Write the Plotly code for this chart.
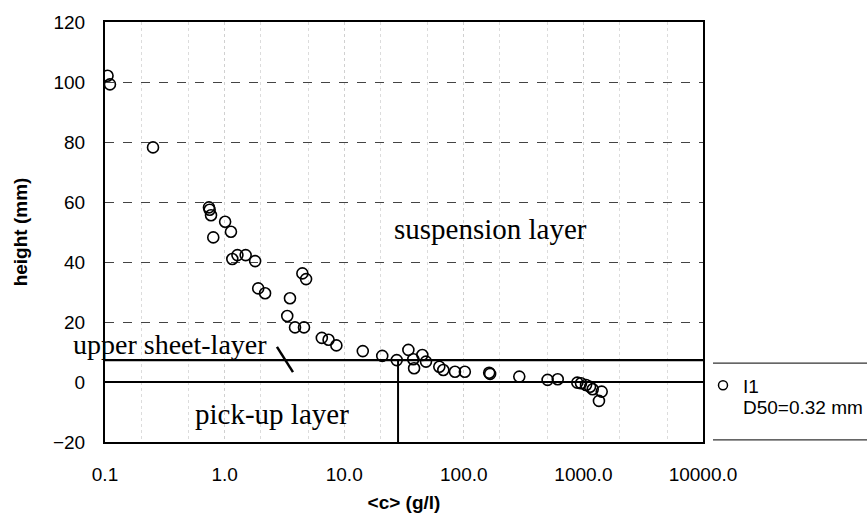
import numpy as np
import plotly.graph_objects as go

# concentration <c> (g/l) and height (mm), series I1
conc = [0.105, 0.110, 0.252, 0.74, 0.75, 0.77, 1.01, 1.13, 0.804, 1.16, 1.28, 1.50, 1.80,
        1.91, 2.18, 3.52, 3.34, 3.88, 4.61, 4.47, 4.80, 6.5, 7.4, 8.6, 14.3, 20.8,
        27.5, 34.4, 37.8, 38.4, 45.0, 48.3, 62.4, 67.4, 84.4, 102.0, 163.0, 166.0,
        291.0, 502.0, 610.0, 889.0, 955.0, 1052.0, 1136.0, 1196.0, 1422.0, 1349.0]
height = [102.1, 99.2, 78.2, 58.2, 57.4, 55.6, 53.4, 50.1, 48.2, 41.0, 42.3, 42.3, 40.3,
          31.2, 29.6, 27.9, 22.0, 18.2, 18.2, 36.2, 34.3, 14.7, 14.1, 12.2, 10.3, 8.7,
          7.3, 10.7, 7.6, 4.6, 9.0, 6.8, 5.1, 4.0, 3.4, 3.4, 3.1, 2.7,
          1.8, 0.7, 0.9, -0.2, -0.4, -1.0, -1.6, -2.4, -3.2, -6.3]

x_tickvals = [0.1, 1, 10, 100, 1000, 10000]
x_ticktext = ["0.1", "1.0", "10.0", "100.0", "1000.0", "10000.0"]
y_tickvals = [-20, 0, 20, 40, 60, 80, 100, 120]

series_name = "I1"
series_note = "D50=0.32 mm"

sheet_top = 7.3       # upper sheet-layer boundary (mm)
bed_level = 0.0       # pick-up layer boundary (mm)
c_boundary = 28.2     # vertical boundary concentration (g/l)
leader_x = [2.74, 3.73]
leader_y = [11.7, 3.3]

SANS = "Arial, Liberation Sans, sans-serif"
SERIF = "Times New Roman, Liberation Serif, serif"

fig = go.Figure()

fig.add_trace(go.Scatter(
    x=conc, y=height, mode="markers", name=series_name, showlegend=False,
    marker=dict(symbol="circle-open", size=11, color="black", line=dict(width=1.6, color="black")),
))
# legend entry (smaller symbol as in the original legend)
fig.add_trace(go.Scatter(
    x=[None], y=[None], mode="markers", name=series_name, showlegend=True,
    marker=dict(symbol="circle-open", size=9, color="black", line=dict(width=1.5, color="black")),
))
# vertical boundary below sheet layer
fig.add_trace(go.Scatter(
    x=[c_boundary, c_boundary], y=[-20, sheet_top], mode="lines",
    line=dict(color="black", width=2), showlegend=False, hoverinfo="skip"))
# leader line for "upper sheet-layer"
fig.add_trace(go.Scatter(
    x=leader_x, y=leader_y, mode="lines",
    line=dict(color="black", width=2.5), showlegend=False, hoverinfo="skip"))

for yy in (sheet_top, bed_level):
    fig.add_shape(type="line", xref="paper", x0=0, x1=1, yref="y", y0=yy, y1=yy,
                  line=dict(color="black", width=2.2))

# legend frame (top and bottom rules)
for py in (0.188, 0.005):
    fig.add_shape(type="line", xref="paper", x0=1.0167, x1=1.3, yref="paper", y0=py, y1=py,
                  line=dict(color="#333", width=1.2))

fig.add_annotation(xref="paper", x=1.0635, y=0.0833, yref="paper",
                   xanchor="left", yanchor="middle",
                   text=series_note, showarrow=False,
                   font=dict(family=SANS, size=19, color="black"))

fig.add_annotation(x=np.log10(168.7), y=51.0, text="suspension layer", showarrow=False,
                   font=dict(family=SERIF, size=29, color="black"))
fig.add_annotation(x=np.log10(0.35), y=12.4, text="upper sheet-layer", showarrow=False,
                   font=dict(family=SERIF, size=28, color="black"))
fig.add_annotation(x=np.log10(2.49), y=-10.5, text="pick-up layer", showarrow=False,
                   font=dict(family=SERIF, size=29, color="black"))

fig.update_layout(
    width=867, height=518,
    margin=dict(l=105, r=164, t=22, b=76, autoexpand=False),
    paper_bgcolor="white", plot_bgcolor="white",
    font=dict(family=SANS, size=19, color="black"),
    showlegend=True,
    legend=dict(x=1.0, xanchor="left", y=0.18, yanchor="top", valign="top",
                font=dict(family=SANS, size=19, color="black"),
                bgcolor="rgba(0,0,0,0)", borderwidth=0),
    xaxis=dict(
        type="log", range=[-1, 4],
        tickvals=x_tickvals, ticktext=x_ticktext, ticks="",
        ticklabelstandoff=14,
        showline=True, linecolor="black", linewidth=2, mirror=True,
        showgrid=True, gridcolor="#d0d0d0", griddash="dot", gridwidth=1,
        minor=dict(showgrid=True, gridcolor="#dcdcdc", griddash="dot", gridwidth=1),
        zeroline=False,
        title=dict(text="<b>&lt;c&gt; (g/l)</b>", font=dict(family=SANS, size=19), standoff=12),
    ),
    yaxis=dict(
        range=[-20, 120], tickvals=y_tickvals, ticks="",
        ticklabelstandoff=14,
        showline=True, linecolor="black", linewidth=2, mirror=True,
        showgrid=True, gridcolor="#444", griddash="dash", gridwidth=1,
        zeroline=False,
        title=dict(text="<b>height (mm)</b>", font=dict(family=SANS, size=19), standoff=20),
    ),
)

fig.write_html("out.html")
